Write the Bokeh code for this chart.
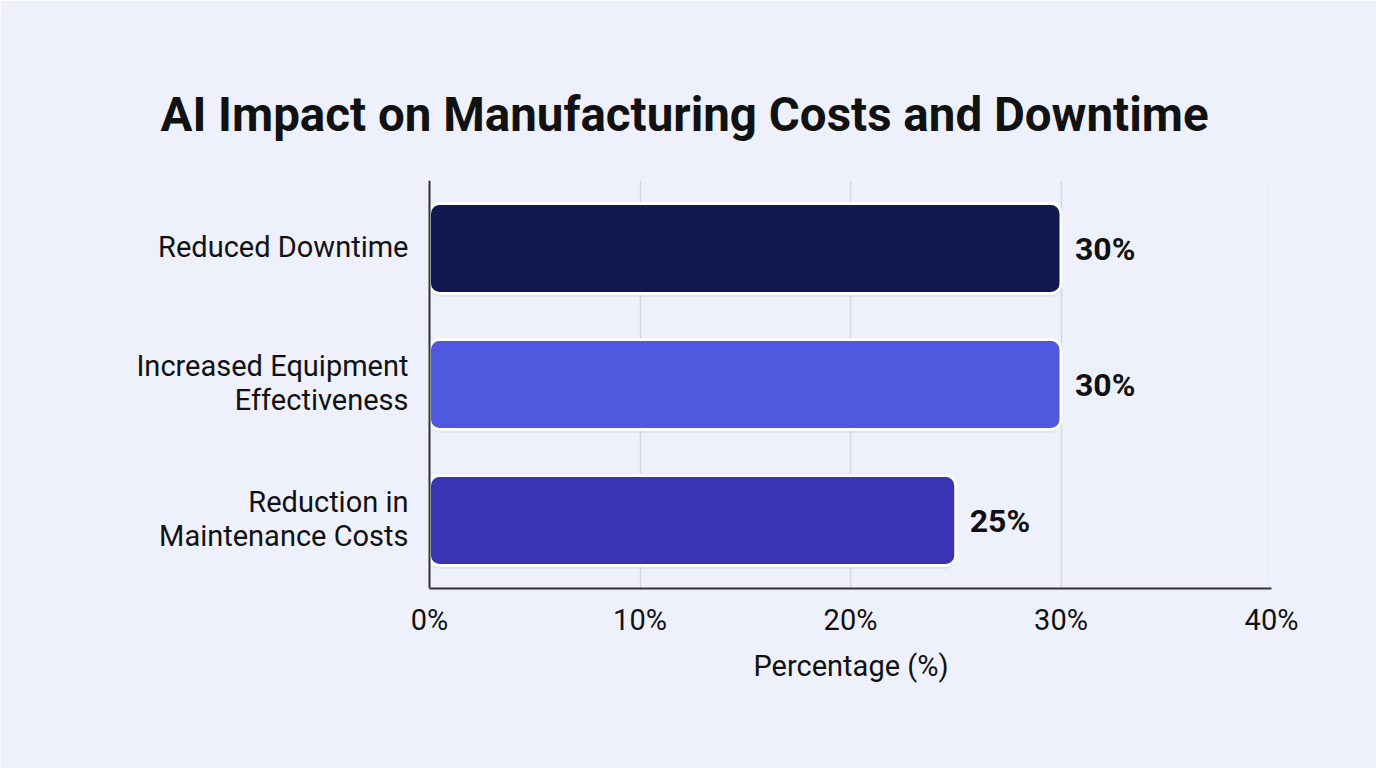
from bokeh.plotting import figure
from bokeh.models import ColumnDataSource, FactorRange, Range1d, FixedTicker, Span, Title
from bokeh.transform import dodge
from bokeh.core.properties import value
from bokeh.embed import file_html
from bokeh.resources import INLINE

categories = ["Reduced Downtime", "Increased Equipment Effectiveness", "Reduction in Maintenance Costs"]
axis_labels = ["Reduced Downtime", "Increased Equipment\nEffectiveness", "Reduction in\nMaintenance Costs"]
values = [30, 30, 25]
colors = ["#141850", "#5058e0", "#3a33b3"]
value_labels = ["30%", "30%", "25%"]
x_ticks = [0, 10, 20, 30, 40]
x_tick_labels = ["0%", "10%", "20%", "30%", "40%"]
x_max = 40

FONT = "Roboto"
BG = "#eef1fb"
W, H = 1376, 768
AXIS_X, FRAME_R, FRAME_T, FRAME_B = 429, 105, 180, 180   # page pixel layout

# the frame starts at the page's left edge so that category labels can be drawn in it;
# the x range is extended to the left so that 0 sits at the axis position
px_per_unit = (W - AXIS_X - FRAME_R) / x_max
x_start = -AXIS_X / px_per_unit

src = ColumnDataSource(dict(cat=categories, val=values, color=colors, lab=value_labels,
                            axlab=axis_labels, zero=[0] * len(categories)))

p = figure(width=W, height=H, output_backend="svg", toolbar_location=None,
           y_range=FactorRange(*reversed(categories)), x_range=Range1d(x_start, x_max),
           y_axis_location=None,
           min_border_left=0, min_border_right=FRAME_R,
           min_border_top=FRAME_T, min_border_bottom=FRAME_B)
p.background_fill_color = BG
p.border_fill_color = BG
p.outline_line_color = None

# title
p.title.text = "AI Impact on Manufacturing Costs and Downtime"
p.title.text_font = FONT
p.title.text_font_size = "47.5px"
p.title.text_font_style = "bold"
p.title.text_color = "#111111"
p.title.align = "left"
p.title.offset = 160
p.title.standoff = 75

# grid
p.xgrid.ticker = FixedTicker(ticks=x_ticks)
p.xgrid.grid_line_color = "#d3d6e2"
p.xgrid.grid_line_width = 1.5
p.ygrid.grid_line_color = None

# soft shadow + bars
p.hbar(y=dodge("cat", -0.025, range=p.y_range), right="val", left=0, height=0.66, source=src,
       fill_color="#9aa0c0", fill_alpha=0.18, line_color=None, border_radius=10)
p.hbar(y="cat", right="val", left=0, height=0.66, source=src, fill_color="color",
       line_color="white", line_width=3, border_radius=10)

# y axis line
p.add_layout(Span(location=0, dimension="height", line_color="#333333", line_width=2))

# value labels
p.text(x="val", y="cat", text="lab", source=src, x_offset=14, text_align="left",
       text_baseline="middle", text_font=value(FONT), text_font_size="32px",
       text_font_style="bold", text_color="#111111")

# category labels
p.text(x="zero", y="cat", text="axlab", source=src, x_offset=-21, y_offset=-2,
       text_align="right", text_baseline="middle", text_font=value(FONT),
       text_font_size="29px", text_color="#111111", text_line_height=1.0)

# x axis
ax = p.xaxis[0]
ax.ticker = FixedTicker(ticks=x_ticks)
ax.bounds = (0, x_max)
ax.major_label_overrides = {t: l for t, l in zip(x_ticks, x_tick_labels)}
ax.axis_line_color = "#333333"
ax.axis_line_width = 2
ax.major_tick_line_color = None
ax.minor_tick_line_color = None
ax.major_label_text_font = FONT
ax.major_label_text_font_size = "29px"
ax.major_label_text_color = "#111111"
ax.major_label_standoff = 8

# x axis title, centred under the value axis
xlab = Title(text="Percentage (%)", text_font=FONT, text_font_size="29px",
             text_font_style="normal", text_color="#111111", align="left",
             offset=753, standoff=15)
p.add_layout(xlab, "below")

open("out.html", "w").write(file_html(p, INLINE))
